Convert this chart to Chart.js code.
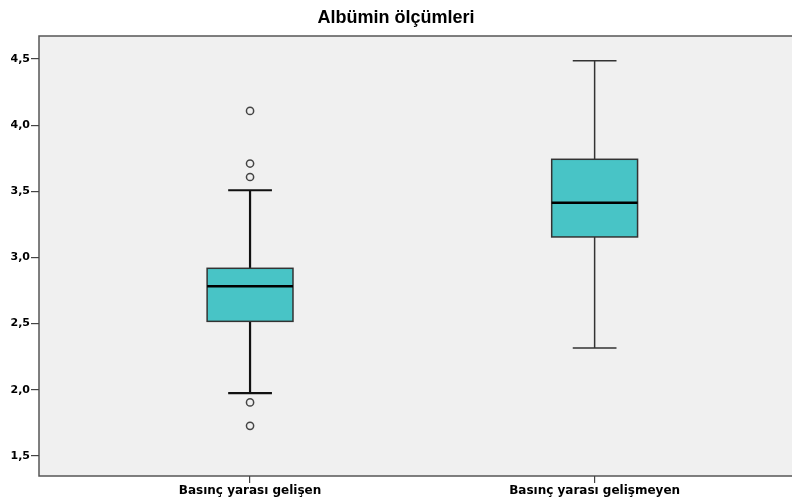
<!DOCTYPE html>
<html>
<head>
<meta charset="utf-8">
<script src="https://cdn.jsdelivr.net/npm/chart.js"></script>
<style>
  html, body { margin: 0; padding: 0; background: #fff; }
  #wrap { width: 792px; height: 501px; }
</style>
</head>
<body>
<div id="wrap"><canvas id="box_chart"></canvas></div>
<script>
// data
const categories = ['Basınç yarası gelişen', 'Basınç yarası gelişmeyen'];
const whiskerLow = [1.975, 2.316];
const q1 = [2.517, 3.155];
const median = [2.782, 3.414];
const q3 = [2.918, 3.742];
const whiskerHigh = [3.508, 4.487];
const outliers = [[4.108, 3.71, 3.608, 1.904, 1.727], []];
const yTicks = [1.5, 2.0, 2.5, 3.0, 3.5, 4.0, 4.5];

const outlierPoints = [];
outliers.forEach(function(list, i){
    list.forEach(function(v){ outlierPoints.push({x: i + 1, y: v}); });
});

// plot background + frame, SPSS style
const framePlugin = {
    id: 'frame',
    beforeDraw(chart){
        const ctx = chart.ctx;
        const a = chart.chartArea;
        ctx.save();
        ctx.fillStyle = '#f0f0f0';
        ctx.fillRect(a.left, a.top, chart.width - a.left + 2, a.bottom - a.top);
        ctx.strokeStyle = '#555';
        ctx.lineWidth = 1.5;
        ctx.beginPath();
        ctx.moveTo(chart.width + 2, a.top);
        ctx.lineTo(a.left, a.top);
        ctx.lineTo(a.left, a.bottom);
        ctx.lineTo(chart.width + 2, a.bottom);
        ctx.stroke();
        ctx.restore();
    }
};

// boxes and whiskers drawn through the scales
const boxPlugin = {
    id: 'boxes',
    beforeDatasetsDraw(chart){
        const ctx = chart.ctx;
        const xs = chart.scales.x;
        const ys = chart.scales.y;
        const boxHalf = 0.1246;
        const capHalf = 0.0635;
        ctx.save();
        for (let i = 0; i < categories.length; i++){
            const xc = xs.getPixelForValue(i + 1);
            const xl = xs.getPixelForValue(i + 1 - boxHalf);
            const xr = xs.getPixelForValue(i + 1 + boxHalf);
            const cl = xs.getPixelForValue(i + 1 - capHalf);
            const cr = xs.getPixelForValue(i + 1 + capHalf);
            const yLo = ys.getPixelForValue(whiskerLow[i]);
            const yQ1 = ys.getPixelForValue(q1[i]);
            const yMed = ys.getPixelForValue(median[i]);
            const yQ3 = ys.getPixelForValue(q3[i]);
            const yHi = ys.getPixelForValue(whiskerHigh[i]);

            ctx.strokeStyle = i === 0 ? '#111' : '#333';
            ctx.lineWidth = i === 0 ? 2.2 : 1.5;
            ctx.beginPath();
            ctx.moveTo(xc, yHi); ctx.lineTo(xc, yQ3);
            ctx.moveTo(xc, yQ1); ctx.lineTo(xc, yLo);
            ctx.moveTo(cl, yHi); ctx.lineTo(cr, yHi);
            ctx.moveTo(cl, yLo); ctx.lineTo(cr, yLo);
            ctx.stroke();

            ctx.fillStyle = '#48c4c6';
            ctx.fillRect(xl, yQ3, xr - xl, yQ1 - yQ3);
            ctx.strokeStyle = '#333';
            ctx.lineWidth = 1.5;
            ctx.strokeRect(xl, yQ3, xr - xl, yQ1 - yQ3);

            ctx.strokeStyle = '#000';
            ctx.lineWidth = 2.6;
            ctx.beginPath();
            ctx.moveTo(xl, yMed); ctx.lineTo(xr, yMed);
            ctx.stroke();
        }
        ctx.restore();
    }
};

const box_chart = document.getElementById('box_chart').getContext('2d');

const new_chart = new Chart(box_chart, {
    type: 'scatter',
    data: {
        datasets: [{
            label: 'Aykırı değerler',
            data: outlierPoints,
            pointStyle: 'circle',
            pointRadius: 3.6,
            pointHoverRadius: 3.6,
            pointBorderWidth: 1.5,
            borderColor: '#444',
            backgroundColor: '#f0f0f0'
        }]
    },
    options: {
        responsive: true,
        maintainAspectRatio: false,
        animation: false,
        layout: { padding: 0 },
        plugins: {
            legend: { display: false },
            tooltip: { enabled: false },
            title: {
                display: true,
                text: 'Albümin ölçümleri',
                color: '#000',
                font: { family: 'Liberation Sans, Arial, sans-serif', size: 18, weight: 'bold' },
                padding: { top: 7, bottom: 7.4 }
            }
        },
        scales: {
            x: {
                type: 'linear',
                min: 0.3875,
                max: 2.558,
                afterBuildTicks(axis){
                    axis.ticks = categories.map(function(c, i){ return {value: i + 1}; });
                },
                afterFit(axis){ axis.height = 25; },
                ticks: {
                    autoSkip: false,
                    maxRotation: 0,
                    padding: 1,
                    color: '#000',
                    font: { family: 'DejaVu Sans, Verdana, sans-serif', size: 12, weight: 'bold' },
                    callback: function(v){ return categories[Math.round(v) - 1]; }
                },
                grid: { display: true, drawOnChartArea: false, drawTicks: true, tickLength: 7, color: '#444', lineWidth: 1.2 },
                border: { display: false }
            },
            y: {
                min: 1.348,
                max: 4.674,
                afterBuildTicks(axis){
                    axis.ticks = yTicks.map(function(v){ return {value: v}; });
                },
                afterFit(axis){ axis.width = 39; },
                ticks: {
                    padding: 1,
                    color: '#000',
                    font: { family: 'DejaVu Sans, Verdana, sans-serif', size: 11, weight: 'bold' },
                    callback: function(v){ return v.toFixed(1).replace('.', ','); }
                },
                grid: { display: true, drawOnChartArea: false, drawTicks: true, tickLength: 8, color: '#444', lineWidth: 1.2 },
                border: { display: false }
            }
        }
    },
    plugins: [framePlugin, boxPlugin]
});
</script>
</body>
</html>
